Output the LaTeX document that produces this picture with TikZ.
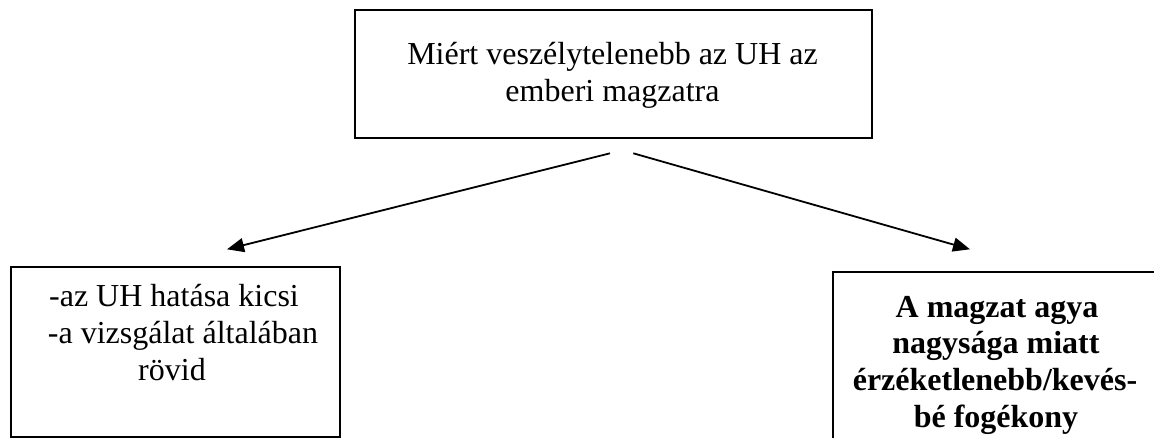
\documentclass[tikz,border=0pt]{standalone}
\usepackage{fontspec}
\setmainfont{Liberation Serif}
\usetikzlibrary{arrows.meta}
\begin{document}
\begin{tikzpicture}[x=1pt,y=-1pt,
  boxshape/.style={draw=black,line width=1.8pt,rectangle,inner sep=0pt,anchor=north west},
  txt/.style={anchor=base,inner sep=0pt,font=\fontsize{32}{36.7}\selectfont},
  btxt/.style={txt,font=\fontsize{32}{36.7}\selectfont\bfseries},
  conn/.style={line width=1.8pt,-{Triangle[length=17pt,width=14pt]}}]
\useasboundingbox (0,0) rectangle (1154,437);
\begin{scope}
\clip (0,0) rectangle (1154,437);
% boxes
\node[boxshape,minimum width=517pt,minimum height=128pt] (top) at (354,9) {};
\node[boxshape,minimum width=329pt,minimum height=170pt] (left) at (10,266) {};
\node[boxshape,minimum width=330pt,minimum height=180pt] (right) at (832,271) {};
% texts
\node[txt] (t1) at (612.5,64) {Miért veszélytelenebb az UH az};
\node[txt] (t2) at (612.5,101) {emberi magzatra};
\node[txt] (l1) at (174,306.7) {-az UH hatása kicsi};
\node[txt] (l2) at (183,343.3) {-a vizsgálat általában};
\node[txt] (l3) at (172,380) {rövid};
\node[btxt] (r1) at (997,317) {A magzat agya};
\node[btxt] (r2) at (996,353.7) {nagysága miatt};
\node[btxt] (r3) at (995,390.3) {érzéketlenebb/kevés-};
\node[btxt] (r4) at (996,427) {bé fogékony};
\end{scope}
% connectors
\coordinate (s1) at (610,153.3);
\coordinate (e1) at (227,249.3);
\coordinate (s2) at (633.3,153.3);
\coordinate (e2) at (970,249.3);
\draw[conn] (s1) -- (e1);
\draw[conn] (s2) -- (e2);
\end{tikzpicture}
\end{document}
